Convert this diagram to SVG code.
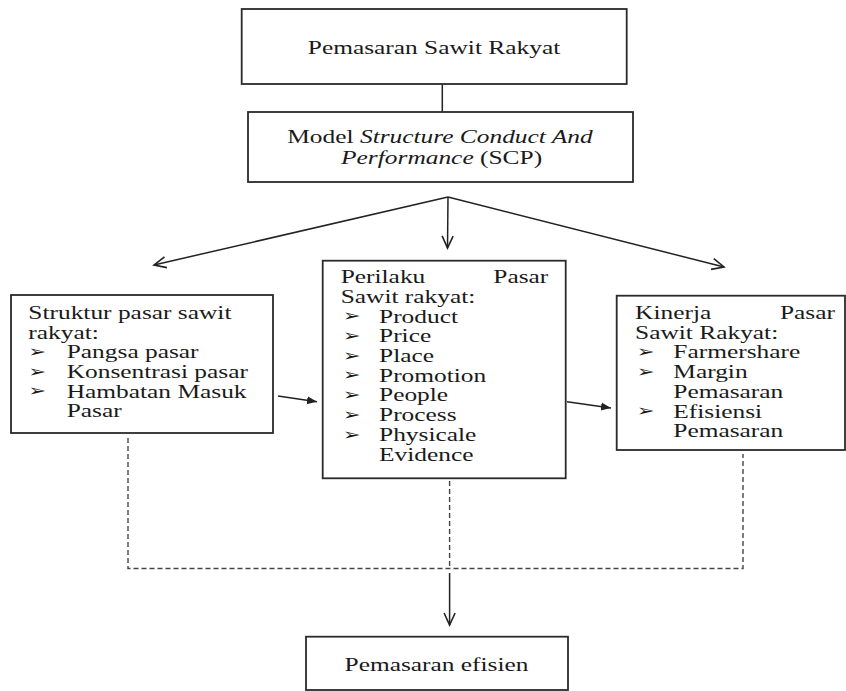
<svg xmlns="http://www.w3.org/2000/svg" width="846" height="691" viewBox="0 0 846 691">
<style>
.box{fill:#fff;stroke:#2a2a2a;stroke-width:1.8}
.t{font-family:"Liberation Serif","Times New Roman",serif;font-size:19px;fill:#1a1a1a}
.b{font-family:"DejaVu Sans",sans-serif;font-size:16px;fill:#1a1a1a}
.c{fill:none;stroke:#222;stroke-width:1.5}
.d{fill:none;stroke:#444;stroke-width:1.4;stroke-dasharray:5,3}
</style>
<defs>
<marker id="open" markerWidth="16" markerHeight="14" refX="13" refY="7" orient="auto" markerUnits="userSpaceOnUse">
<path d="M1,1.5 L13,7 L1,12.5" fill="none" stroke="#222" stroke-width="1.6"/>
</marker>
<marker id="solid" markerWidth="12" markerHeight="10" refX="10" refY="5" orient="auto" markerUnits="userSpaceOnUse">
<path d="M0,1 L10,5 L0,9 z" fill="#222"/>
</marker>
</defs>
<g id="connectors">
<line class="c" x1="442.3" y1="84" x2="442.3" y2="112"/>
<line class="c" x1="448" y1="197" x2="154" y2="265" marker-end="url(#open)"/>
<line class="c" x1="448" y1="197" x2="447.5" y2="248" marker-end="url(#open)"/>
<line class="c" x1="448" y1="197" x2="724" y2="267" marker-end="url(#open)"/>
<line class="c" x1="278" y1="396" x2="317" y2="401.7" marker-end="url(#solid)"/>
<line class="c" x1="567" y1="401.7" x2="611" y2="408" marker-end="url(#solid)"/>
<path class="d" d="M128,438 V568.5 H743 V454"/>
<line class="d" x1="449.6" y1="481" x2="449.6" y2="568"/>
<line class="c" x1="449.6" y1="573" x2="449.6" y2="625" marker-end="url(#open)"/>
</g>
<g id="node-pemasaran-sawit">
<rect class="box" x="241.7" y="9" width="385" height="75"/>
<g transform="scale(1.337 1)"><text class="t" x="324.6" y="54" text-anchor="middle">Pemasaran Sawit Rakyat</text></g>
</g>
<g id="node-scp">
<rect class="box" x="248" y="112" width="385" height="70"/>
<g transform="scale(1.337 1)">
<text class="t" x="329.1" y="143.5" text-anchor="middle">Model <tspan font-style="italic">Structure Conduct And</tspan></text>
<text class="t" x="330.3" y="164.5" text-anchor="middle"><tspan font-style="italic">Performance</tspan> (SCP)</text>
</g>
</g>
<g id="node-struktur">
<rect class="box" x="11" y="295" width="262" height="138"/>
<g transform="scale(1.337 1)">
<text class="t" x="21.2" y="319.3">Struktur pasar sawit</text>
<text class="t" x="21.2" y="338.8">rakyat:</text>
<text class="b" x="21.2" y="357">➢</text><text class="t" x="49.9" y="358.3">Pangsa pasar</text>
<text class="b" x="21.2" y="376.7">➢</text><text class="t" x="49.9" y="378">Konsentrasi pasar</text>
<text class="b" x="21.2" y="396.4">➢</text><text class="t" x="49.9" y="397.7">Hambatan Masuk</text>
<text class="t" x="49.9" y="417.3">Pasar</text>
</g>
</g>
<g id="node-perilaku">
<rect class="box" x="322.7" y="260.7" width="243" height="217.6"/>
<g transform="scale(1.337 1)">
<text class="t" x="254.8" y="283.3">Perilaku</text>
<text class="t" x="410.1" y="283.3" text-anchor="end">Pasar</text>
<text class="t" x="254.8" y="303">Sawit rakyat:</text>
<text class="b" x="256.3" y="321.4">➢</text><text class="t" x="283.5" y="322.7">Product</text>
<text class="b" x="256.3" y="341.1">➢</text><text class="t" x="283.5" y="342.4">Price</text>
<text class="b" x="256.3" y="360.8">➢</text><text class="t" x="283.5" y="362.1">Place</text>
<text class="b" x="256.3" y="380.5">➢</text><text class="t" x="283.5" y="381.8">Promotion</text>
<text class="b" x="256.3" y="400.2">➢</text><text class="t" x="283.5" y="401.5">People</text>
<text class="b" x="256.3" y="419.9">➢</text><text class="t" x="283.5" y="421.2">Process</text>
<text class="b" x="256.3" y="439.6">➢</text><text class="t" x="283.5" y="440.9">Physicale</text>
<text class="t" x="283.5" y="460.6">Evidence</text>
</g>
</g>
<g id="node-kinerja">
<rect class="box" x="616.7" y="295.7" width="228.3" height="154.3"/>
<g transform="scale(1.337 1)">
<text class="t" x="475" y="319.3">Kinerja</text>
<text class="t" x="624.5" y="319.3" text-anchor="end">Pasar</text>
<text class="t" x="475" y="338.8">Sawit Rakyat:</text>
<text class="b" x="476.3" y="357.2">➢</text><text class="t" x="503.6" y="358.5">Farmershare</text>
<text class="b" x="476.3" y="376.9">➢</text><text class="t" x="503.6" y="378.2">Margin</text>
<text class="t" x="503.6" y="397.9">Pemasaran</text>
<text class="b" x="476.3" y="416.3">➢</text><text class="t" x="503.6" y="417.6">Efisiensi</text>
<text class="t" x="503.6" y="437.3">Pemasaran</text>
</g>
</g>
<g id="node-efisien">
<rect class="box" x="306" y="636.7" width="262" height="53.3"/>
<g transform="scale(1.337 1)"><text class="t" x="326.5" y="671" text-anchor="middle">Pemasaran efisien</text></g>
</g>
</svg>
